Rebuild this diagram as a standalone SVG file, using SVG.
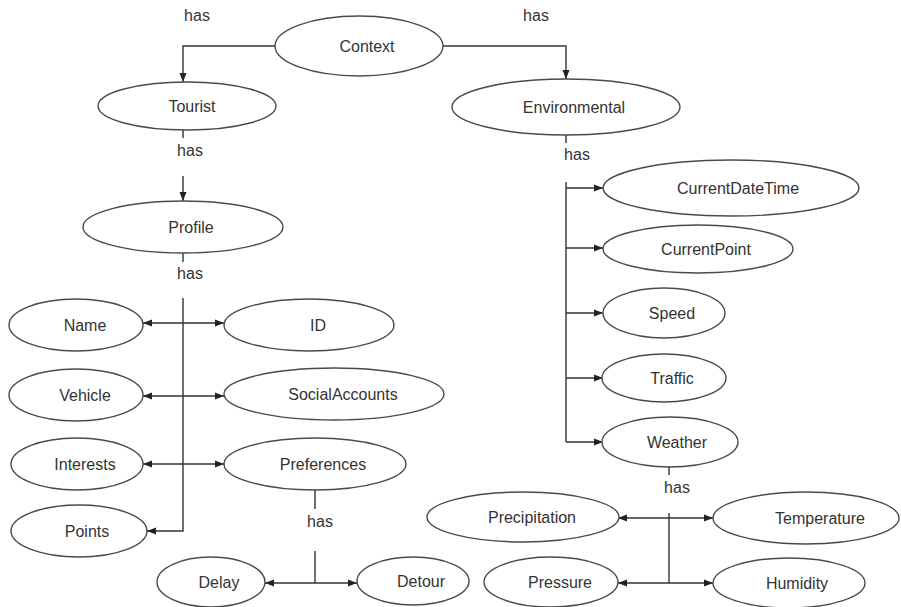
<svg xmlns="http://www.w3.org/2000/svg" width="901" height="607" viewBox="0 0 901 607">
<style>
.n ellipse{fill:#fff;stroke:#4a4a4a;stroke-width:1.4}
text{font-family:"Liberation Sans",Arial,sans-serif;font-size:16px;fill:#333;text-anchor:middle}
.c path{fill:none;stroke:#333;stroke-width:1.4}
</style>
<defs>
<marker id="a" markerUnits="userSpaceOnUse" markerWidth="10" markerHeight="8" refX="9" refY="4" orient="auto-start-reverse">
<path d="M0,0.5 L9,4 L0,7.5 z" fill="#222"/>
</marker>
</defs>
<rect width="901" height="607" fill="#fff"/>
<g class="c" id="connectors">
<path d="M275,46 H183 V82" marker-end="url(#a)"/>
<path d="M443,46 H566 V79" marker-end="url(#a)"/>
<path d="M183,130 V138"/>
<path d="M183,176 V201" marker-end="url(#a)"/>
<path d="M183,253 V262"/>
<path d="M183,298 V531 H147" marker-end="url(#a)"/>
<path d="M143,323 H224" marker-start="url(#a)" marker-end="url(#a)"/>
<path d="M143,396 H224" marker-start="url(#a)" marker-end="url(#a)"/>
<path d="M143,464 H224" marker-start="url(#a)" marker-end="url(#a)"/>
<path d="M315,490 V509"/>
<path d="M315,551 V583"/>
<path d="M265,583 H357" marker-start="url(#a)" marker-end="url(#a)"/>
<path d="M566,135 V143"/>
<path d="M566,182 V442"/>
<path d="M566,188 H603" marker-end="url(#a)"/>
<path d="M566,248 H603" marker-end="url(#a)"/>
<path d="M566,313 H603" marker-end="url(#a)"/>
<path d="M566,378 H603" marker-end="url(#a)"/>
<path d="M566,442 H603" marker-end="url(#a)"/>
<path d="M669,467 V475"/>
<path d="M669,513 V583"/>
<path d="M618,518 H713" marker-start="url(#a)" marker-end="url(#a)"/>
<path d="M618,583 H713" marker-start="url(#a)" marker-end="url(#a)"/>
</g>
<g id="labels">
<text x="197" y="21">has</text>
<text x="536" y="21">has</text>
<text x="190" y="156">has</text>
<text x="190" y="279">has</text>
<text x="320" y="527">has</text>
<text x="577" y="160">has</text>
<text x="677" y="493">has</text>
</g>
<g class="n" id="context"><ellipse cx="359" cy="46" rx="84" ry="30"/><text x="367" y="52">Context</text></g>
<g class="n" id="tourist"><ellipse cx="187" cy="106" rx="89" ry="24"/><text x="192" y="112">Tourist</text></g>
<g class="n" id="environmental"><ellipse cx="566" cy="107" rx="114" ry="28"/><text x="574" y="113">Environmental</text></g>
<g class="n" id="profile"><ellipse cx="183" cy="227" rx="100" ry="26"/><text x="191" y="233">Profile</text></g>
<g class="n" id="name"><ellipse cx="76" cy="325" rx="67" ry="26"/><text x="85" y="331">Name</text></g>
<g class="n" id="id"><ellipse cx="309" cy="325" rx="85" ry="26"/><text x="318" y="331">ID</text></g>
<g class="n" id="vehicle"><ellipse cx="76" cy="395" rx="67" ry="26"/><text x="85" y="401">Vehicle</text></g>
<g class="n" id="socialaccounts"><ellipse cx="334" cy="394" rx="110" ry="26"/><text x="343" y="400">SocialAccounts</text></g>
<g class="n" id="interests"><ellipse cx="77" cy="464" rx="66" ry="26"/><text x="85" y="470">Interests</text></g>
<g class="n" id="preferences"><ellipse cx="315" cy="464" rx="91" ry="26"/><text x="323" y="470">Preferences</text></g>
<g class="n" id="points"><ellipse cx="79" cy="531" rx="68" ry="26"/><text x="87" y="537">Points</text></g>
<g class="n" id="delay"><ellipse cx="211" cy="582" rx="54" ry="25"/><text x="219" y="588">Delay</text></g>
<g class="n" id="detour"><ellipse cx="413" cy="581" rx="56" ry="24"/><text x="421" y="587">Detour</text></g>
<g class="n" id="currentdatetime"><ellipse cx="731" cy="188" rx="128" ry="28"/><text x="738" y="194">CurrentDateTime</text></g>
<g class="n" id="currentpoint"><ellipse cx="698" cy="249" rx="95" ry="24"/><text x="706" y="255">CurrentPoint</text></g>
<g class="n" id="speed"><ellipse cx="664" cy="313" rx="61" ry="25"/><text x="672" y="319">Speed</text></g>
<g class="n" id="traffic"><ellipse cx="664" cy="378" rx="62" ry="24"/><text x="672" y="384">Traffic</text></g>
<g class="n" id="weather"><ellipse cx="670" cy="442" rx="68" ry="25"/><text x="677" y="448">Weather</text></g>
<g class="n" id="precipitation"><ellipse cx="523" cy="517" rx="96" ry="25"/><text x="532" y="523">Precipitation</text></g>
<g class="n" id="temperature"><ellipse cx="806" cy="518" rx="93" ry="26"/><text x="820" y="524">Temperature</text></g>
<g class="n" id="pressure"><ellipse cx="551" cy="582" rx="67" ry="25"/><text x="560" y="588">Pressure</text></g>
<g class="n" id="humidity"><ellipse cx="789" cy="583" rx="76" ry="25"/><text x="797" y="589">Humidity</text></g>
</svg>
